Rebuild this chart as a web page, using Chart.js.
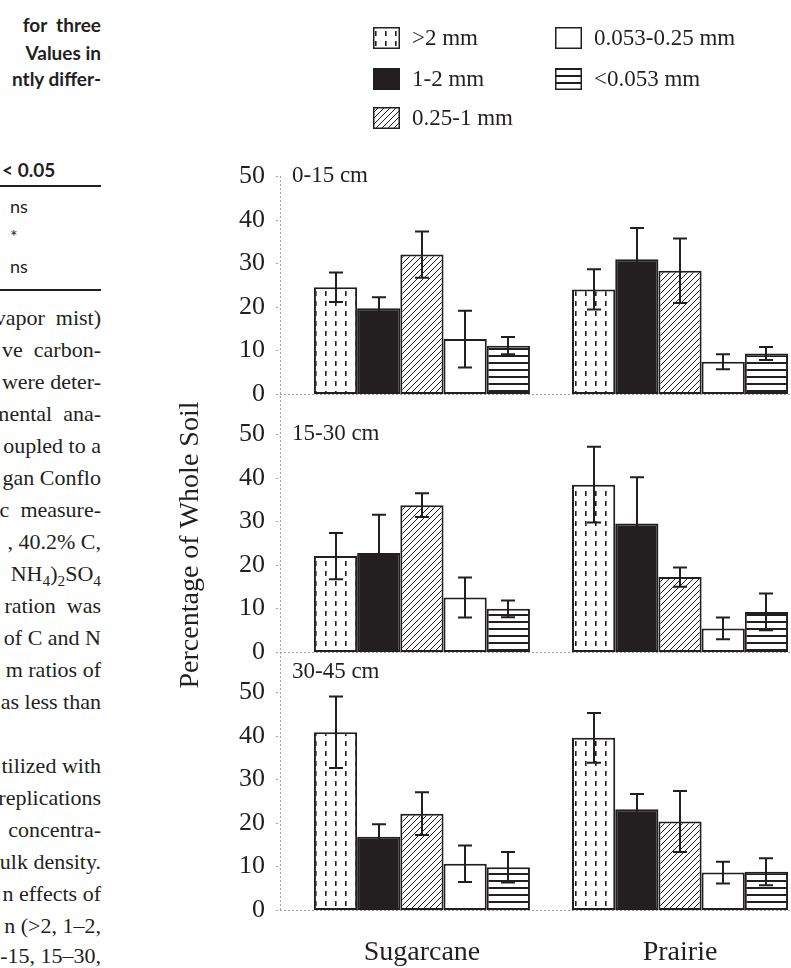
<!DOCTYPE html>
<html><head><meta charset="utf-8">
<title>Aggregate size distribution</title>
<script src="https://cdn.jsdelivr.net/npm/chart.js@4.4.1/dist/chart.umd.min.js"></script>
<style>
html,body{margin:0;padding:0;background:#fff;}
#page{position:relative;width:791px;height:968px;overflow:hidden;background:#fff;}
#chart{position:absolute;left:0;top:0;}
.t{position:absolute;white-space:nowrap;line-height:1;transform:translateY(-50%);color:#231f20;}
.r{right:690px;}
.hd{font-family:Lato,'Liberation Sans',sans-serif;font-weight:700;font-size:19px;}
.sn{font-family:Lato,'Liberation Sans',sans-serif;font-size:18px;}
.bd{font-family:'Liberation Serif',serif;font-size:22px;}
.rule{position:absolute;left:0;width:101px;height:2px;background:#231f20;}
sub{font-size:0.7em;vertical-align:-0.3em;line-height:0;}
</style></head><body>
<div id="page">
<div class="t r hd" style="top:24px">for&nbsp;&nbsp;three</div>
<div class="t r hd" style="top:52px">Values in</div>
<div class="t r hd" style="top:78px">ntly differ-</div>
<div class="t hd" style="left:2px;top:169px">&lt; 0.05</div>
<div class="rule" style="top:185px"></div>
<div class="t sn" style="left:10px;top:206px">ns</div>
<div class="t sn" style="left:10px;top:236px">*</div>
<div class="t sn" style="left:10px;top:266px">ns</div>
<div class="rule" style="top:289px"></div>
<div class="t r bd" style="top:318px">vapor&nbsp;&nbsp;mist)</div>
<div class="t r bd" style="top:350px">ve&nbsp;&nbsp;carbon-</div>
<div class="t r bd" style="top:382px">were deter-</div>
<div class="t r bd" style="top:414px">mental&nbsp;&nbsp;ana-</div>
<div class="t r bd" style="top:446px">oupled to a</div>
<div class="t r bd" style="top:478px">gan Conflo</div>
<div class="t r bd" style="top:510px">ic&nbsp;&nbsp;measure-</div>
<div class="t r bd" style="top:542px">, 40.2% C,</div>
<div class="t r bd" style="top:574px">NH<sub>4</sub>)<sub>2</sub>SO<sub>4</sub></div>
<div class="t r bd" style="top:606px">ration&nbsp;&nbsp;was</div>
<div class="t r bd" style="top:638px">of C and N</div>
<div class="t r bd" style="top:670px">m ratios of</div>
<div class="t r bd" style="top:702px">as less than</div>
<div class="t r bd" style="top:766px">tilized with</div>
<div class="t r bd" style="top:798px">replications</div>
<div class="t r bd" style="top:830px">concentra-</div>
<div class="t r bd" style="top:862px">ulk density.</div>
<div class="t r bd" style="top:894px">n effects of</div>
<div class="t r bd" style="top:926px">n (&gt;2, 1–2,</div>
<div class="t r bd" style="top:956px">-15, 15–30,</div>
<canvas id="chart" width="791" height="968"></canvas>
</div>
<script>
// ---------------- data ----------------
const categories = ['Sugarcane', 'Prairie'];
const fractions = ['>2 mm', '1-2 mm', '0.25-1 mm', '0.053-0.25 mm', '<0.053 mm'];
const depths = ['0-15 cm', '15-30 cm', '30-45 cm'];
const yTicks = [0, 10, 20, 30, 40, 50];

// percentage of whole soil, one value per fraction (same order as `fractions`)
const sugarcane_0_15  = [24.5, 19.7, 32.0, 12.6, 11.1];
const prairie_0_15    = [24.0, 30.9, 28.3, 7.4, 9.3];
const sugarcane_15_30 = [22.0, 22.7, 33.7, 12.5, 9.9];
const prairie_15_30   = [38.4, 29.5, 17.2, 5.4, 9.2];
const sugarcane_30_45 = [40.8, 16.8, 22.1, 10.6, 9.8];
const prairie_30_45   = [39.5, 23.1, 20.3, 8.6, 8.8];

// error bar half-lengths
const sugarcaneErr_0_15  = [3.4, 2.5, 5.3, 6.5, 2.0];
const prairieErr_0_15    = [4.6, 7.2, 7.4, 1.7, 1.5];
const sugarcaneErr_15_30 = [5.3, 8.8, 2.7, 4.6, 1.9];
const prairieErr_15_30   = [8.7, 10.6, 2.2, 2.5, 4.2];
const sugarcaneErr_30_45 = [8.2, 2.9, 4.9, 4.2, 3.5];
const prairieErr_30_45   = [5.7, 3.5, 7.0, 2.5, 3.1];

// ---------------- styling ----------------
const INK = '#231f20';
const SERIF = '"Liberation Serif", "Times New Roman", serif';

function makeFill(kind) {
  if (kind === 1) return INK;
  if (kind === 3) return '#ffffff';
  const c = document.createElement('canvas');
  const g = c.getContext('2d');
  if (kind === 0) {            // vertical dashes
    c.width = 10; c.height = 10;
    g.fillStyle = '#fff'; g.fillRect(0, 0, 10, 10);
    g.fillStyle = INK; g.fillRect(5, 1, 1.6, 5);
  } else if (kind === 2) {     // diagonal hatch
    c.width = 6; c.height = 6;
    g.fillStyle = '#fff'; g.fillRect(0, 0, 6, 6);
    g.strokeStyle = INK; g.lineWidth = 1;
    g.beginPath();
    g.moveTo(-1, 7); g.lineTo(7, -1);
    g.moveTo(-1, 1); g.lineTo(1, -1);
    g.moveTo(5, 7); g.lineTo(7, 5);
    g.stroke();
  } else {                     // horizontal lines
    c.width = 4; c.height = 7;
    g.fillStyle = '#fff'; g.fillRect(0, 0, 4, 7);
    g.fillStyle = INK; g.fillRect(0, 5, 4, 2);
  }
  return g.createPattern(c, 'repeat');
}
const fills = fractions.map((f, i) => makeFill(i));

const panelValues = [[sugarcane_0_15, prairie_0_15], [sugarcane_15_30, prairie_15_30], [sugarcane_30_45, prairie_30_45]];
const panelErrors = [[sugarcaneErr_0_15, prairieErr_0_15], [sugarcaneErr_15_30, prairieErr_15_30], [sugarcaneErr_30_45, prairieErr_30_45]];

const datasets = [];
depths.forEach((d, di) => {
  fractions.forEach((f, fi) => {
    datasets.push({
      label: f,
      depthIndex: di,
      data: categories.map((c, ci) => ({ x: ci, y: panelValues[di][ci][fi] })),
      errors: categories.map((c, ci) => panelErrors[di][ci][fi]),
      yAxisID: 'y' + di,
      stack: 'f' + fi,
      backgroundColor: fills[fi],
      borderColor: INK,
      borderWidth: 2,
      borderSkipped: false,
      barPercentage: 1,
      categoryPercentage: 0.837
    });
  });
});

function yAxis() {
  return {
    type: 'linear', position: 'left', stack: 'panels', stackWeight: 1,
    min: 0, max: 59.2, stacked: false, offset: false,
    grid: { display: false, drawTicks: false }, border: { display: false },
    afterBuildTicks: a => { a.ticks = yTicks.map(v => ({ value: v })); },
    ticks: { font: { family: SERIF, size: 26 }, color: INK, padding: 15, autoSkip: false },
    afterFit: s => { s.width = 60; }
  };
}

const figure = {
  id: 'figure',
  beforeDatasetsDraw(chart) {
    const { ctx, chartArea } = chart;
    ctx.save();
    ctx.strokeStyle = '#a0a0a0'; ctx.lineWidth = 1; ctx.setLineDash([2, 2]);
    depths.forEach((d, di) => {
      const s = chart.scales['y' + di];
      const y0 = s.getPixelForValue(0);
      ctx.beginPath(); ctx.moveTo(chartArea.left, y0 + 0.5); ctx.lineTo(chartArea.right, y0 + 0.5); ctx.stroke();
      yTicks.forEach(t => {
        const y = Math.round(s.getPixelForValue(t)) + 0.5;
        ctx.beginPath(); ctx.moveTo(chartArea.left - 4, y); ctx.lineTo(chartArea.left, y); ctx.stroke();
      });
    });
    const top = chart.scales.y0.getPixelForValue(50);
    ctx.beginPath(); ctx.moveTo(chartArea.left + 0.5, top); ctx.lineTo(chartArea.left + 0.5, chartArea.bottom); ctx.stroke();
    ctx.restore();
  },
  afterDatasetsDraw(chart) {
    const ctx = chart.ctx;
    ctx.save();
    ctx.strokeStyle = INK; ctx.lineWidth = 2;
    chart.data.datasets.forEach((ds, i) => {
      const meta = chart.getDatasetMeta(i);
      const ys = chart.scales[ds.yAxisID];
      meta.data.forEach((bar, j) => {
        const v = ds.data[j].y, e = ds.errors[j];
        const x = Math.round(bar.x);
        const yt = ys.getPixelForValue(v + e), yb = ys.getPixelForValue(v - e);
        ctx.beginPath();
        ctx.moveTo(x, yt); ctx.lineTo(x, yb);
        ctx.moveTo(x - 7, yt); ctx.lineTo(x + 7, yt);
        ctx.moveTo(x - 7, yb); ctx.lineTo(x + 7, yb);
        ctx.stroke();
      });
    });
    ctx.restore();
  },
  afterDraw(chart) {
    const { ctx, chartArea } = chart;
    ctx.save();
    ctx.fillStyle = INK;
    // panel (depth) labels
    ctx.font = '23px ' + SERIF; ctx.textAlign = 'left'; ctx.textBaseline = 'middle';
    depths.forEach((d, di) => {
      const s = chart.scales['y' + di];
      const y = s.getPixelForValue(di === 2 ? 54.6 : 50);
      ctx.fillText(d, chartArea.left + 12, y);
    });
    // legend (two columns)
    const lx = [373, 555], ly = [38, 79, 118];
    fractions.forEach((f, i) => {
      const x = lx[Math.floor(i / 3)], y = ly[i % 3];
      ctx.fillStyle = fills[i]; ctx.fillRect(x, y - 11, 27, 22);
      ctx.strokeStyle = INK; ctx.lineWidth = 1.5; ctx.setLineDash([]);
      ctx.strokeRect(x + 0.75, y - 10.25, 25.5, 20.5);
      ctx.fillStyle = INK; ctx.font = '23px ' + SERIF; ctx.textAlign = 'left'; ctx.textBaseline = 'middle';
      ctx.fillText(f, x + 39, y + 1);
    });
    // y axis title
    ctx.translate(191, 545); ctx.rotate(-Math.PI / 2);
    ctx.font = '28px ' + SERIF; ctx.textAlign = 'center'; ctx.textBaseline = 'middle';
    ctx.fillText('Percentage of Whole Soil', 0, 0);
    ctx.restore();
  }
};

new Chart(document.getElementById('chart'), {
  type: 'bar',
  data: { datasets },
  options: {
    responsive: false, animation: false, devicePixelRatio: 1,
    layout: { padding: { left: 220, top: 136, right: 0, bottom: 0 } },
    plugins: { legend: { display: false }, tooltip: { enabled: false }, title: { display: false } },
    scales: {
      x: {
        type: 'linear', min: -0.55, max: 1.43, offset: false,
        grid: { display: false }, border: { display: false },
        afterBuildTicks: a => { a.ticks = categories.map((c, i) => ({ value: i })); },
        ticks: { callback: v => categories[v], font: { family: SERIF, size: 28 }, color: INK, padding: 18, maxRotation: 0, autoSkip: false },
        afterFit: s => { s.height = 58; }
      },
      y2: yAxis(),
      y1: yAxis(),
      y0: yAxis()
    }
  },
  plugins: [figure]
});
</script>
</body></html>
